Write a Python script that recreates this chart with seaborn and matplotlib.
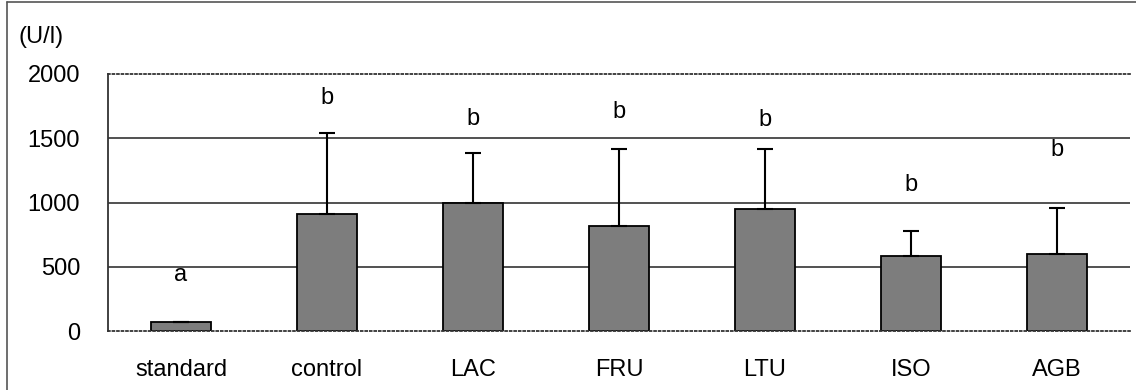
import matplotlib
matplotlib.use("Agg")
import matplotlib.pyplot as plt
from matplotlib.lines import Line2D
import numpy as np
import pandas as pd
import seaborn as sns

categories = ["standard", "control", "LAC", "FRU", "LTU", "ISO", "AGB"]
means = [70, 908, 998, 817, 949, 586, 597]
sd_upper = [0, 635, 385, 597, 470, 192, 363]
letters = ["a", "b", "b", "b", "b", "b", "b"]
letter_y = [436, 1813, 1650, 1707, 1642, 1136, 1409]
yticks = [0, 500, 1000, 1500, 2000]

sns.set_theme(style="white")
plt.rcParams['font.family'] = ['Liberation Sans', 'DejaVu Sans']

fig = plt.figure(figsize=(11.36, 3.90), dpi=100)
ax = fig.add_axes([108/1136, 1-331/390, (1130-108)/1136, (331-74)/390])

df = pd.DataFrame({"cat": categories, "val": means})
sns.barplot(data=df, x="cat", y="val", color="#7d7d7d", saturation=1,
            width=0.41, edgecolor="black", linewidth=1.3, ax=ax, errorbar=None)

xs = np.arange(len(categories))
ax.errorbar(xs, means, yerr=[np.zeros(len(means)), sd_upper], fmt="none",
            ecolor="black", elinewidth=1.5, capsize=6, capthick=1.5)

for x, lab, ly in zip(xs, letters, letter_y):
    ax.text(x, ly, lab, ha="center", va="center", fontsize=17, color="black")

ax.set_ylim(0, 2000)
ax.set_xlim(-0.5, 6.5)
ax.set_yticks(yticks)
ax.set_yticklabels([str(v) for v in yticks])
ax.tick_params(axis="y", length=0, pad=20, labelsize=17, labelcolor="black")
ax.tick_params(axis="x", length=0, pad=20, labelsize=17, labelcolor="black")
ax.set_xticks(xs, minor=False)
ax.set_xticklabels(categories)
ax.set_xticks(np.arange(0.5, 6.5, 1.0), minor=True)
ax.tick_params(axis="x", which="minor", direction="in", length=5, width=1.2, color="#333333")
ax.set_xlabel("")
ax.set_ylabel("")

for v in [500, 1000, 1500]:
    ax.axhline(v, color="#333333", linewidth=1.2, zorder=0)

ax.spines["right"].set_visible(False)
ax.spines["left"].set_color("#333333")
ax.spines["left"].set_linewidth(1.3)
for s in ["top", "bottom"]:
    ax.spines[s].set_linestyle((0, (1, 1.5)))
    ax.spines[s].set_color("#333333")
    ax.spines[s].set_linewidth(1.3)

fig.text(18/1136, 1-37/390, "(U/l)", ha="left", va="center", fontsize=17, color="black")

fig.add_artist(Line2D([7/1136, 7/1136], [0, 1-2/390], transform=fig.transFigure,
                      color="#555555", linewidth=1.2))
fig.add_artist(Line2D([7/1136, 1], [1-2/390, 1-2/390], transform=fig.transFigure,
                      color="#555555", linewidth=1.2))

fig.savefig("out.png", dpi=100, facecolor="white")
